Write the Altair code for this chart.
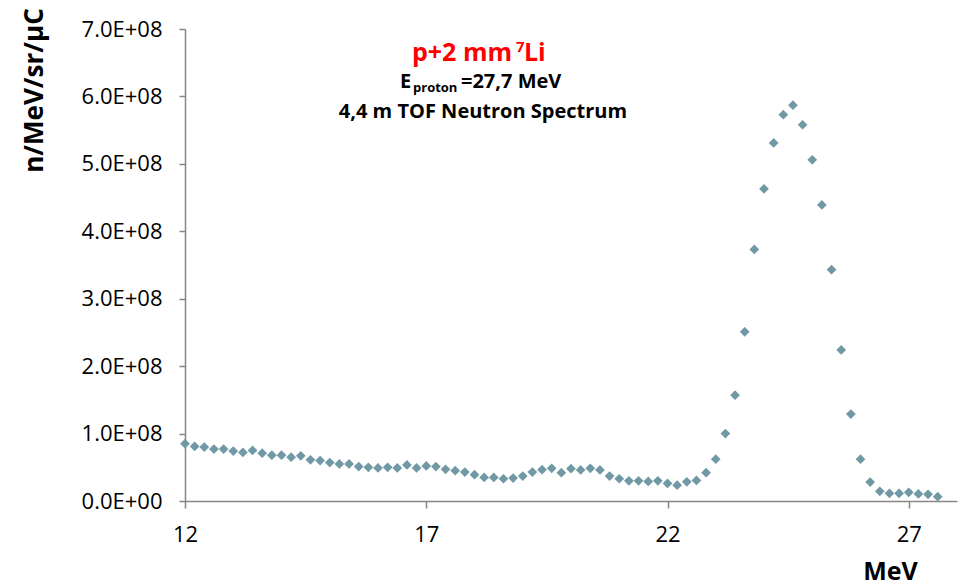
import altair as alt
import pandas as pd

energy_mev = [12.0, 12.2, 12.4, 12.6, 12.8, 13.0, 13.2, 13.4, 13.6, 13.8,
              14.0, 14.2, 14.4, 14.6, 14.8, 15.0, 15.2, 15.4, 15.6, 15.8,
              16.0, 16.2, 16.4, 16.6, 16.8, 17.0, 17.2, 17.4, 17.6, 17.8,
              18.0, 18.2, 18.4, 18.6, 18.8, 19.0, 19.2, 19.4, 19.6, 19.8,
              20.0, 20.2, 20.4, 20.6, 20.8, 21.0, 21.2, 21.4, 21.6, 21.8,
              22.0, 22.2, 22.4, 22.6, 22.8, 23.0, 23.2, 23.4, 23.6, 23.8,
              24.0, 24.2, 24.4, 24.6, 24.8, 25.0, 25.2, 25.4, 25.6, 25.8,
              26.0, 26.2, 26.4, 26.6, 26.8, 27.0, 27.2, 27.4, 27.6]

# yield in units of 1e8 n/MeV/sr/uC
yield_e8 = [0.85, 0.81, 0.80, 0.77, 0.77, 0.74, 0.72, 0.75, 0.71, 0.68,
            0.68, 0.65, 0.67, 0.61, 0.60, 0.57, 0.55, 0.55, 0.51, 0.50,
            0.49, 0.50, 0.49, 0.535, 0.49, 0.52, 0.51, 0.47, 0.45, 0.43,
            0.39, 0.35, 0.35, 0.33, 0.34, 0.37, 0.43, 0.465, 0.485, 0.42,
            0.48, 0.46, 0.485, 0.46, 0.37, 0.33, 0.30, 0.30, 0.29, 0.30,
            0.26, 0.235, 0.285, 0.305, 0.42, 0.62, 1.00, 1.57, 2.51, 3.73,
            4.63, 5.31, 5.73, 5.87, 5.58, 5.06, 4.39, 3.43, 2.24, 1.29,
            0.62, 0.28, 0.144, 0.114, 0.114, 0.129, 0.104, 0.10, 0.064]

x_ticks = [12, 17, 22, 27]
y_ticks = [0, 1e8, 2e8, 3e8, 4e8, 5e8, 6e8, 7e8]

df = pd.DataFrame({"E": energy_mev, "Y": [v * 1e8 for v in yield_e8]})

FONT = "Open Sans"
AXIS_COLOR = "#868686"

points = alt.Chart(df).mark_point(
    shape="diamond", filled=True, size=95, color="#7199A5", opacity=1
).encode(
    x=alt.X("E:Q",
            scale=alt.Scale(domain=[12, 28], nice=False, zero=False),
            axis=alt.Axis(values=x_ticks, title="MeV", titleFont=FONT,
                          titleFontSize=25, titleFontWeight="bold",
                          titleColor="black", titleX=705, titleY=70,
                          titleAlign="center", titleBaseline="middle",
                          labelFont=FONT, labelFontSize=22, labelColor="black",
                          labelPadding=16, labelFlush=False, tickSize=7,
                          tickColor=AXIS_COLOR, domainColor=AXIS_COLOR,
                          domainWidth=1.5, tickWidth=1.5, grid=False)),
    y=alt.Y("Y:Q",
            scale=alt.Scale(domain=[0, 7e8], nice=False),
            axis=alt.Axis(values=y_ticks, title="n/MeV/sr/µC",
                          titleFont=FONT, titleFontSize=26, titleFontWeight="bold",
                          titleColor="black", titleAngle=270, titleX=-151, titleY=61,
                          titleAlign="center", titleBaseline="middle",
                          labelExpr="datum.value == 0 ? '0.0E+00' : format(datum.value / 1e8, '.1f') + 'E+08'",
                          labelFont=FONT, labelFontSize=22, labelColor="black",
                          labelPadding=17, tickSize=6, tickColor=AXIS_COLOR,
                          domainColor=AXIS_COLOR, domainWidth=1.5, tickWidth=1.5,
                          grid=False)),
)

def txt(text, x, y, size, color="black", align="center", baseline="alphabetic"):
    return alt.Chart(pd.DataFrame({"t": [text]})).mark_text(
        font=FONT, fontSize=size, fontWeight="bold", color=color,
        align=align, baseline=baseline
    ).encode(text="t:N", x=alt.value(x), y=alt.value(y))

# title block (pixel positions relative to plot area)
t1a = txt("p+2 mm", 327, 32, 25, "#FF0000", align="right")
t1b = txt("7", 331, 23, 15, "#FF0000", align="left")
t1c = txt("Li", 339, 32, 25, "#FF0000", align="left")
t2a = txt("E", 215, 59, 20, align="left")
t2b = txt("proton", 228, 63, 13, align="left")
t2c = txt("=27,7 MeV", 276, 59, 20, align="left")
t3 = txt("4,4 m TOF Neutron Spectrum", 298, 89, 20)

chart = alt.layer(points, t1a, t1b, t1c, t2a, t2b, t2c, t3).properties(
    width=772, height=472,
    padding={"left": 185, "top": 29, "right": 4, "bottom": 85},
    autosize=alt.AutoSizeParams(type="none"),
    background="white",
).configure_view(stroke=None)

chart.save("out.html", embed_options={"renderer": "svg", "actions": False})
